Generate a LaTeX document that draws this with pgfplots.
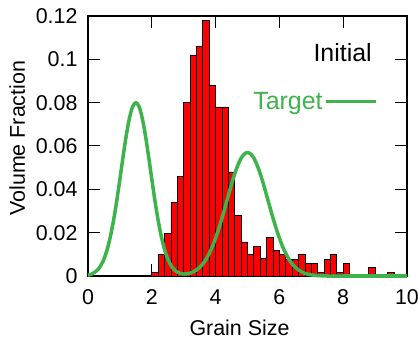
\documentclass[border=0pt]{standalone}
\usepackage{pgfplots}
\pgfplotsset{compat=1.18}
\usepackage{fontspec}
\setmainfont{Liberation Sans}
\definecolor{tgreen}{RGB}{60,180,75}
\begin{document}
\begin{tikzpicture}
\path[use as bounding box] (-88bp,-65bp) rectangle (330bp,276bp);
\begin{axis}[
  at={(0,0)}, anchor=south west,
  scale only axis,
  width=319bp, height=260bp,
  xmin=0, xmax=10, ymin=0, ymax=0.12,
  clip=false,
  axis line style={line width=1.1bp},
  tick style={black, line width=1bp},
  tick align=inside,
  major tick length=12bp,
  xtick={0,2,4,6,8,10},
  xticklabels={0,2,4,6,8,10},
  ytick={0,0.02,0.04,0.06,0.08,0.1,0.12},
  yticklabels={0,0.02,0.04,0.06,0.08,0.1,0.12},
  scaled y ticks=false,
  ticklabel style={font=\fontsize{21.5}{25}\selectfont},
  yticklabel style={xshift=-7bp},
  xticklabel style={yshift=-10bp},
  xlabel={Grain Size},
  ylabel={Volume Fraction},
  label style={font=\fontsize{21.5}{25}\selectfont},
  xlabel style={at={(axis description cs:0.475,-0.2)}, anchor=center},
  ylabel style={at={(axis description cs:-0.222,0.53)}, anchor=center},
  legend style={at={(axis cs:9.1,0.0805)}, anchor=east, draw=none, fill=none,
    font=\fontsize{25}{29}\selectfont, text=tgreen, inner sep=0pt},
  legend plot pos=right,
  legend image code/.code={\draw[#1] (0bp,0bp) -- (50bp,0bp);},
]
\addplot[ybar, bar width=0.2, bar shift=0pt, fill=red, draw=black, line width=0.8bp, forget plot]
coordinates {
(2.1,0.0018) (2.3,0.0098) (2.5,0.0197) (2.7,0.034) (2.9,0.046)
(3.1,0.080) (3.3,0.102) (3.5,0.106) (3.7,0.118) (3.9,0.088)
(4.1,0.078) (4.3,0.078) (4.5,0.048) (4.7,0.028) (4.9,0.0157)
(5.1,0.0098) (5.3,0.0138) (5.5,0.008) (5.7,0.0178) (5.9,0.0117)
(6.1,0.0098) (6.3,0.0077) (6.5,0.0077) (6.7,0.0098) (6.9,0.0058)
(7.1,0.0058) (7.3,0.0018) (7.5,0.0077) (7.7,0.0098) (7.9,0.0018)
(8.1,0.0058) (8.9,0.004) (9.5,0.0018)
};
\addplot[tgreen, line width=3.5bp, smooth, line join=round]
coordinates {
(0,0.0004) (0.1,0.0008) (0.2,0.0016) (0.3,0.0028) (0.4,0.0048)
(0.5,0.0078) (0.6,0.0122) (0.7,0.0181) (0.8,0.0256) (0.9,0.0346)
(1.0,0.0447) (1.1,0.0551) (1.2,0.0649) (1.3,0.0729) (1.4,0.0782)
(1.5,0.0800) (1.6,0.0782) (1.7,0.0729) (1.8,0.0649) (1.9,0.0551)
(2.0,0.0447) (2.1,0.0346) (2.2,0.0256) (2.3,0.0181) (2.4,0.0122)
(2.5,0.0079) (2.6,0.0049) (2.7,0.0030) (2.8,0.0018) (2.9,0.0012)
(3.0,0.0009) (3.1,0.0010) (3.2,0.0013) (3.3,0.0019) (3.4,0.0028)
(3.5,0.0040) (3.6,0.0056) (3.7,0.0077) (3.8,0.0104) (3.9,0.0136)
(4.0,0.0175) (4.1,0.0219) (4.2,0.0267) (4.3,0.0319) (4.4,0.0372)
(4.5,0.0424) (4.6,0.0472) (4.7,0.0512) (4.8,0.0544) (4.9,0.0563)
(5.0,0.0570) (5.1,0.0563) (5.2,0.0544) (5.3,0.0512) (5.4,0.0472)
(5.5,0.0424) (5.6,0.0372) (5.7,0.0319) (5.8,0.0267) (5.9,0.0219)
(6.0,0.0175) (6.1,0.0136) (6.2,0.0104) (6.3,0.0077) (6.4,0.0056)
(6.5,0.0040) (6.6,0.0028) (6.7,0.0019) (6.8,0.0012) (6.9,0.0008)
(7.0,0.0005) (7.2,0.0002) (7.5,0.0000) (8.0,0) (9.0,0) (10,0)
};
\addlegendentry{Target}
\node[anchor=east, inner sep=0pt, font=\fontsize{25}{29}\selectfont] at (axis cs:8.9,0.103) {Initial};
\end{axis}
\end{tikzpicture}
\end{document}
